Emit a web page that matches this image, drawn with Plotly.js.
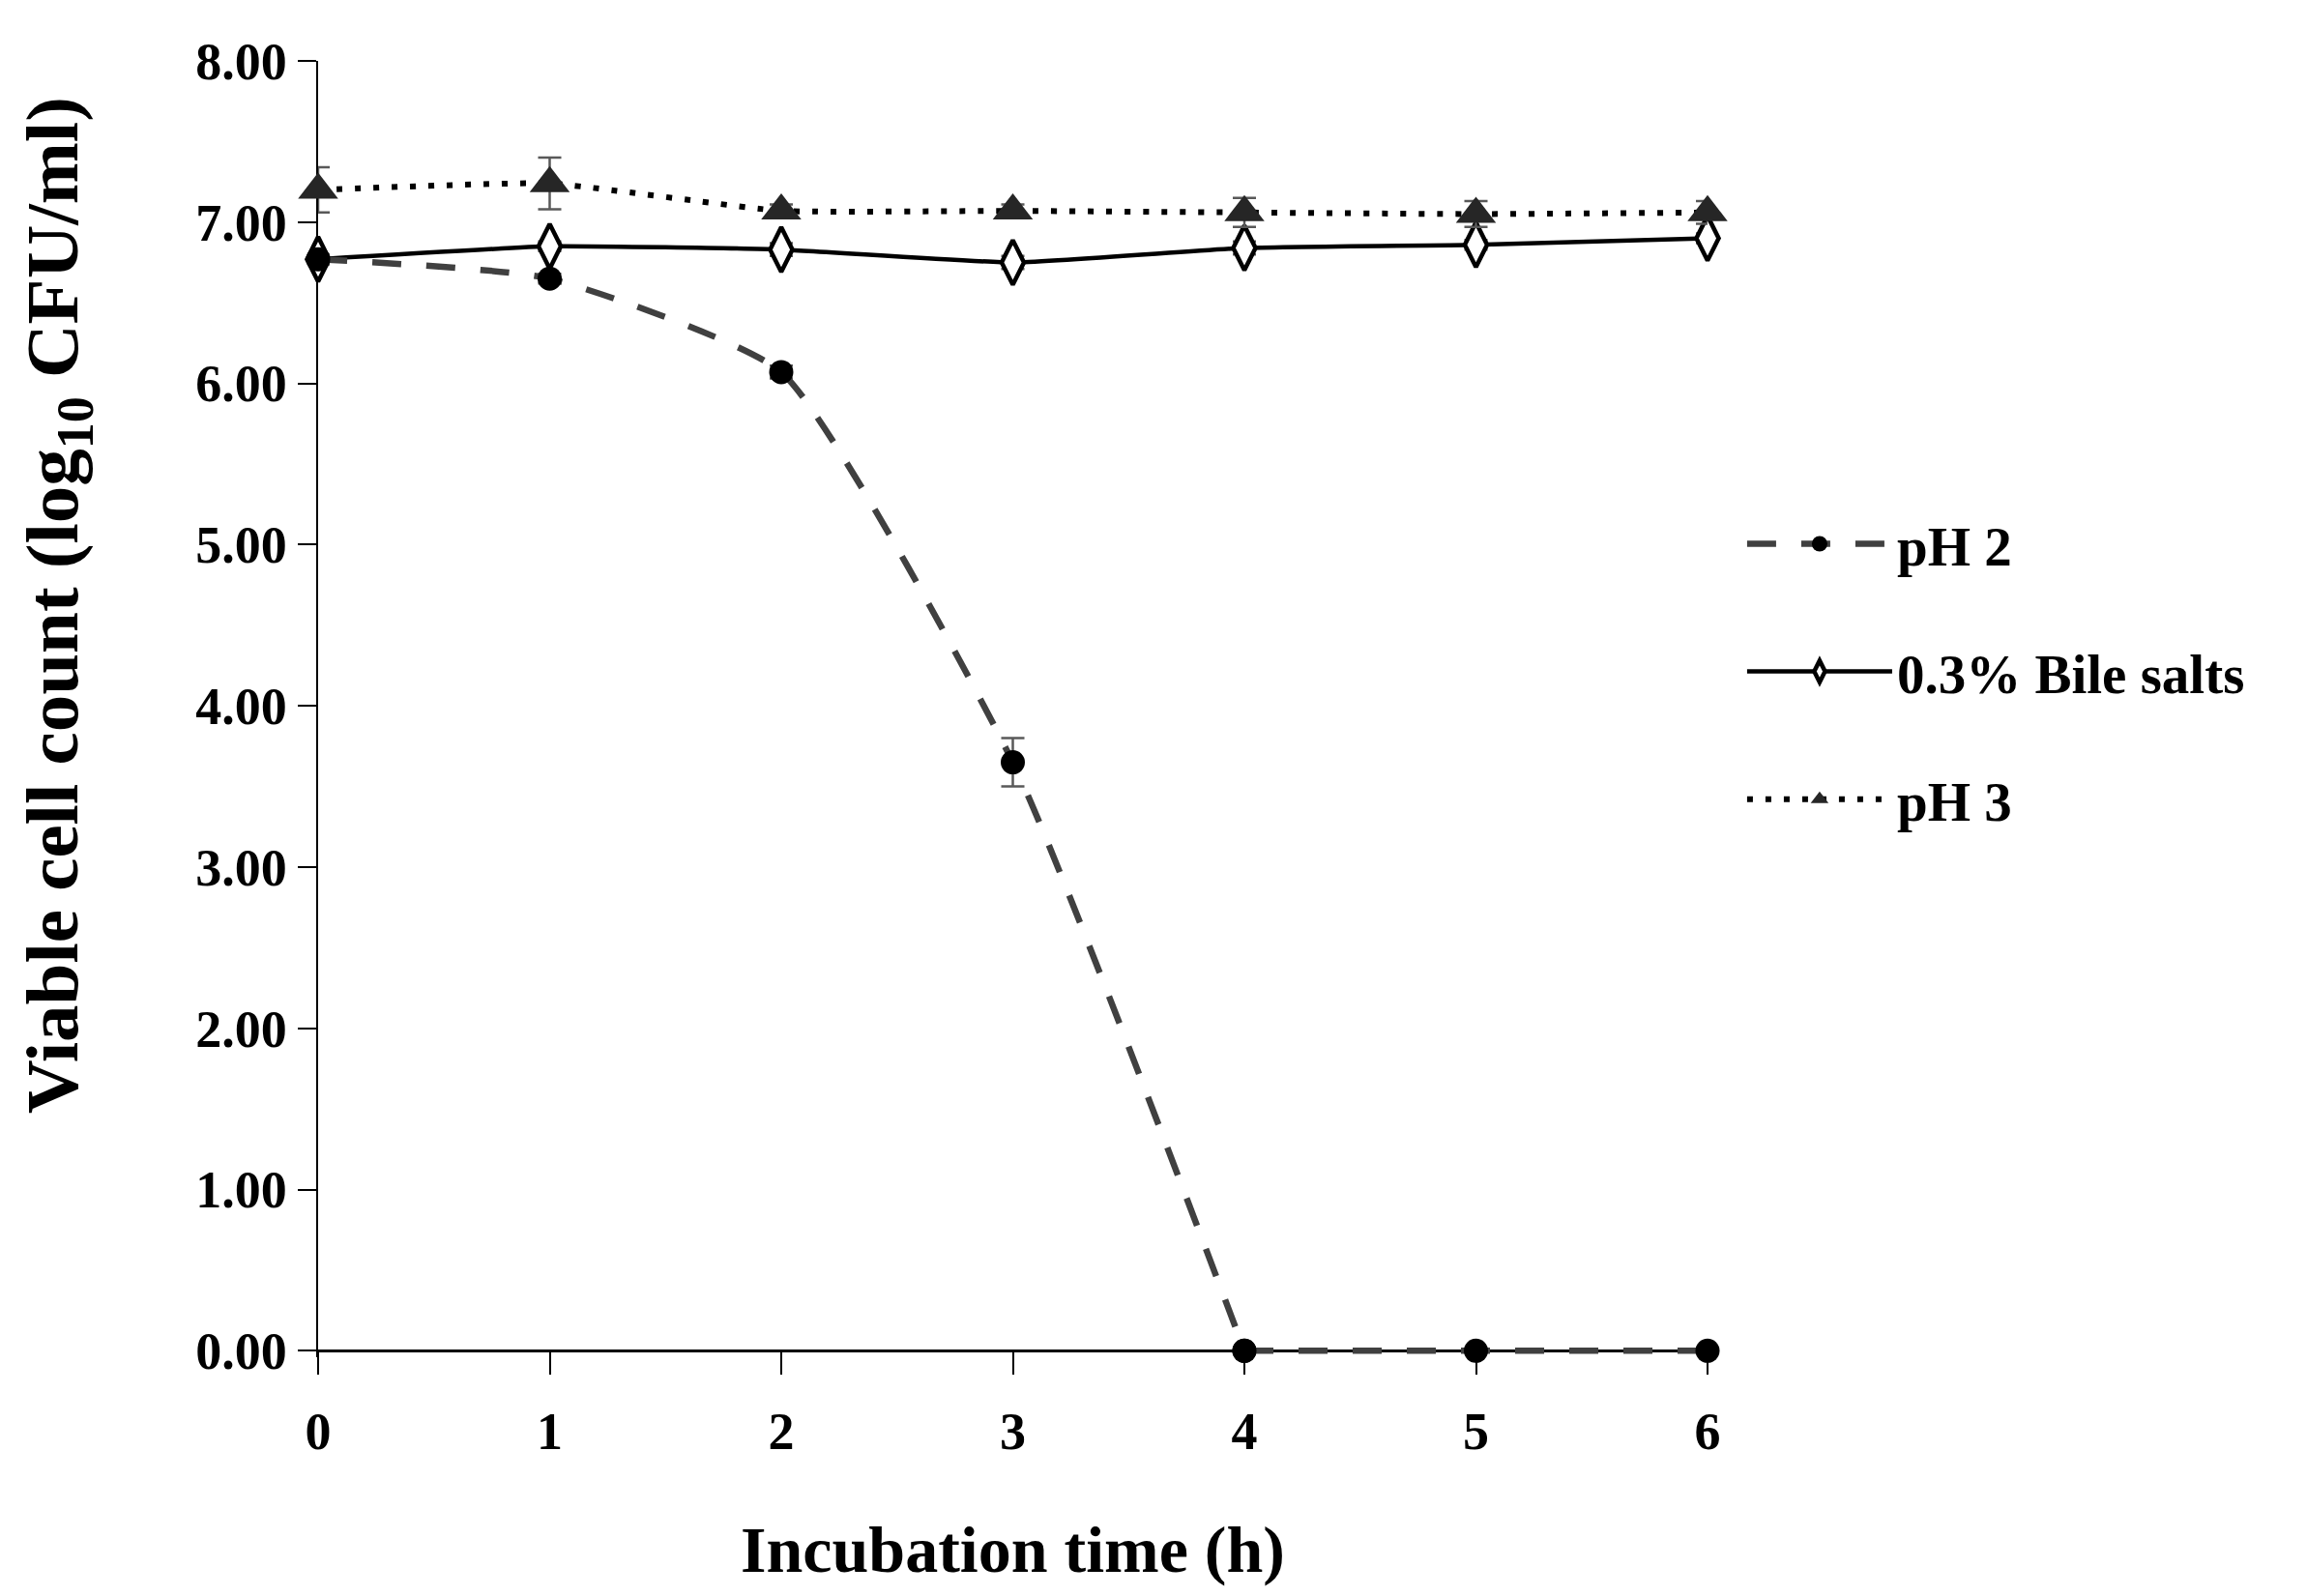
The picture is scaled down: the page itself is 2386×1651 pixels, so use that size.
<!DOCTYPE html>
<html>
<head>
<meta charset="utf-8">
<script src="https://cdn.plot.ly/plotly-3.0.1.min.js"></script>
<style>
  html, body { margin: 0; padding: 0; background: #fff; }
  #chart { width: 2386px; height: 1651px; }
</style>
</head>
<body>
<div id="chart"></div>
<script>
// values
let hours = [0, 1, 2, 3, 4, 5, 6];

let ph2 = [6.77, 6.65, 6.07, 3.65, 0.00, 0.00, 0.00];
let ph2Err = [0.03, 0.03, 0.04, 0.15, 0.00, 0.00, 0.00];

let bile = [6.77, 6.85, 6.83, 6.75, 6.84, 6.86, 6.90];
let bileErr = [0.03, 0.03, 0.04, 0.04, 0.04, 0.03, 0.03];

let ph3 = [7.20, 7.24, 7.07, 7.07, 7.06, 7.05, 7.06];
let ph3Err = [0.14, 0.16, 0.04, 0.04, 0.09, 0.08, 0.07];

let yTicks = [0, 1, 2, 3, 4, 5, 6, 7, 8];

let seriesNames = ["pH 2", "0.3% Bile salts", "pH 3"];

// small room below zero so the line lying on the axis is not clipped
let yMin = -0.04, yMax = 8;

let font = {family: "Liberation Serif, Times New Roman, serif", color: "#000", weight: "bold"};

let errBar = (arr)=>{
    return {type: "data", array: arr, visible: true, color: "#595959", thickness: 2.5, width: 12};
}

let bileTrace = {
    x: hours,
    y: bile,
    name: seriesNames[1],
    legendrank: 2,
    legendgroup: "b",
    mode: "lines+markers",
    line: {color: "#000", width: 4.5, shape: "spline", smoothing: 0.4},
    marker: {symbol: "diamond-tall", size: 33, color: "#fff", line: {color: "#000", width: 4.5}},
    error_y: errBar(bileErr),
    cliponaxis: false
}

let ph3Trace = {
    x: hours,
    y: ph3,
    name: seriesNames[2],
    legendrank: 3,
    legendgroup: "c",
    mode: "lines+markers",
    line: {color: "#000", width: 6, dash: "6px,13px", shape: "spline", smoothing: 0.4},
    marker: {symbol: "triangle-up", size: 36, color: "#262626"},
    error_y: errBar(ph3Err),
    cliponaxis: false
}

// pH 2 falls to zero at 4 h; the smoothed part stops there so the curve
// does not swing under the axis, the flat tail is drawn straight
let ph2Line = {color: "#404040", width: 6.5, dash: "30px,26px"};
let ph2Marker = {symbol: "circle", size: 25, color: "#000"};

let ph2Trace = {
    x: hours.slice(0, 5),
    y: ph2.slice(0, 5),
    name: seriesNames[0],
    legendrank: 1,
    legendgroup: "a",
    mode: "lines+markers",
    line: Object.assign({}, ph2Line, {shape: "spline", smoothing: 0.5}),
    marker: ph2Marker,
    error_y: errBar(ph2Err.slice(0, 5)),
    cliponaxis: false
}

let ph2Tail = {
    x: hours.slice(4),
    y: ph2.slice(4),
    name: seriesNames[0],
    legendgroup: "a",
    showlegend: false,
    mode: "lines+markers",
    line: Object.assign({}, ph2Line, {shape: "linear"}),
    marker: ph2Marker,
    error_y: errBar(ph2Err.slice(4)),
    cliponaxis: false
}

let layout = {
    width: 2386,
    height: 1651,
    margin: {l: 329, r: 620, t: 63, b: 247},
    paper_bgcolor: "#fff",
    plot_bgcolor: "#fff",
    font: Object.assign({}, font, {size: 54}),
    showlegend: true,
    legend: {
        x: 1.025,
        y: 0.66,
        xanchor: "left",
        yanchor: "top",
        traceorder: "grouped",
        tracegroupgap: 55,
        itemwidth: 150,
        font: Object.assign({}, font, {size: 57}),
        bgcolor: "rgba(0,0,0,0)"
    },
    xaxis: {
        range: [0, 6],
        anchor: "free",
        position: (0 - yMin) / (yMax - yMin),
        tickvals: hours,
        ticktext: hours.map(String),
        showgrid: false,
        zeroline: false,
        showline: true,
        linecolor: "#000",
        linewidth: 2.5,
        ticks: "outside",
        ticklen: 23,
        tickwidth: 2,
        tickcolor: "#000",
        ticklabelstandoff: 12,
        layer: "below traces",
        tickfont: Object.assign({}, font, {size: 54}),
        title: {
            text: "Incubation time (h)",
            font: Object.assign({}, font, {size: 68}),
            standoff: 68
        }
    },
    yaxis: {
        range: [yMin, yMax],
        tickvals: yTicks,
        ticktext: yTicks.map(v => v.toFixed(2)),
        showgrid: false,
        zeroline: false,
        showline: true,
        linecolor: "#000",
        linewidth: 2.5,
        ticks: "outside",
        ticklen: 19,
        tickwidth: 2,
        tickcolor: "#000",
        layer: "below traces",
        tickfont: Object.assign({}, font, {size: 54})
    },
    annotations: [{
        text: "Viable cell count (log<sub>10</sub> CFU/ml)",
        xref: "paper",
        yref: "paper",
        x: -0.188,
        y: 0.58,
        xanchor: "center",
        yanchor: "middle",
        textangle: -90,
        showarrow: false,
        font: Object.assign({}, font, {size: 77})
    }]
}

Plotly.newPlot("chart", [bileTrace, ph3Trace, ph2Trace, ph2Tail], layout, {displayModeBar: false, staticPlot: true});
</script>
</body>
</html>
